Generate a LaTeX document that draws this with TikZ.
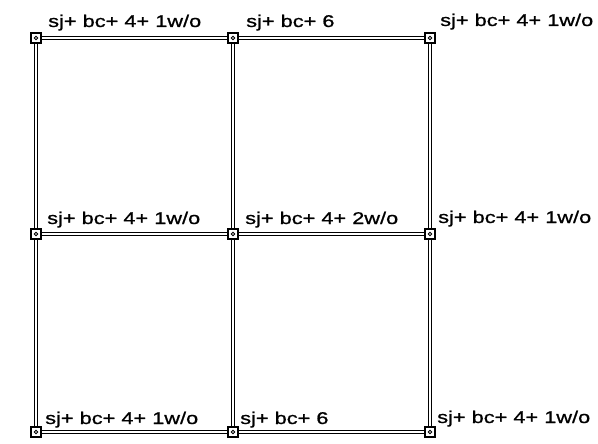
\documentclass[tikz,border=0pt]{standalone}
\usepackage{fontspec}
\setmainfont{Liberation Sans}
\newfontfamily\lblfont[FakeBold=0.8]{Liberation Sans}
\newcommand\stretchlbl[1]{\scalebox{1.28}[1]{#1}}
\begin{document}
\begin{tikzpicture}[x=1pt,y=-1pt,
  member/.style={draw=black, line width=1.3pt, double=white, double distance=2.2pt},
  joint/.style={draw=black, line width=2.2pt, fill=white, minimum size=10pt, inner sep=0pt, rectangle},
  lbl/.style={anchor=base west, inner sep=0pt, font=\lblfont\fontsize{17}{17}\selectfont}]
\useasboundingbox (0,0) rectangle (598,444);
\fill[white] (0,0) rectangle (598,444);
% joints
\node[joint] (a1) at (36,38) {};
\node[joint] (a2) at (233,38) {};
\node[joint] (a3) at (430,38) {};
\node[joint] (b1) at (36,234) {};
\node[joint] (b2) at (233,234) {};
\node[joint] (b3) at (430,234) {};
\node[joint] (c1) at (36,432) {};
\node[joint] (c2) at (233,432) {};
\node[joint] (c3) at (430,432) {};
\foreach \n in {a1,a2,a3,b1,b2,b3,c1,c2,c3}
  \draw[line width=0.9pt] (\n.center) circle (1.8pt);
% members
\draw[member] (a1) -- (a2);
\draw[member] (a2) -- (a3);
\draw[member] (b1) -- (b2);
\draw[member] (b2) -- (b3);
\draw[member] (c1) -- (c2);
\draw[member] (c2) -- (c3);
\draw[member] (a1) -- (b1);
\draw[member] (b1) -- (c1);
\draw[member] (a2) -- (b2);
\draw[member] (b2) -- (c2);
\draw[member] (a3) -- (b3);
\draw[member] (b3) -- (c3);
% labels
\node[lbl] (la1) at (48,27) {\stretchlbl{sj+ bc+ 4+ 1w/o}};
\node[lbl] (la2) at (246,27) {\stretchlbl{sj+ bc+ 6}};
\node[lbl] (la3) at (440,26) {\stretchlbl{sj+ bc+ 4+ 1w/o}};
\node[lbl] (lb1) at (47,224) {\stretchlbl{sj+ bc+ 4+ 1w/o}};
\node[lbl] (lb2) at (245,224) {\stretchlbl{sj+ bc+ 4+ 2w/o}};
\node[lbl] (lb3) at (438,223) {\stretchlbl{sj+ bc+ 4+ 1w/o}};
\node[lbl] (lc1) at (45,424) {\stretchlbl{sj+ bc+ 4+ 1w/o}};
\node[lbl] (lc2) at (240,424) {\stretchlbl{sj+ bc+ 6}};
\node[lbl] (lc3) at (437,423) {\stretchlbl{sj+ bc+ 4+ 1w/o}};
\end{tikzpicture}
\end{document}
